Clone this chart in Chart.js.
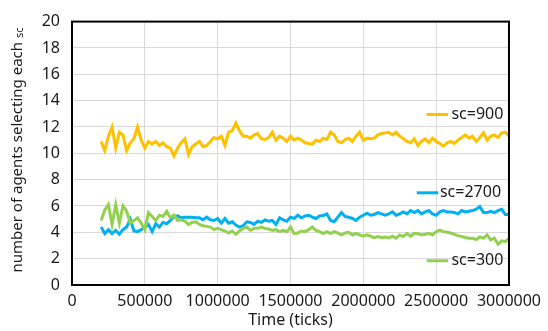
<!DOCTYPE html>
<html>
<head>
<meta charset="utf-8">
<script src="https://cdn.jsdelivr.net/npm/chart.js@4.4.1/dist/chart.umd.min.js"></script>
<style>
    body { margin: 0; background: #ffffff; }
    #grafico_box { width: 548px; height: 331px; }
</style>
</head>
<body>
<div id="grafico_box"><canvas id="canvas_grafico"></canvas></div>
<script>
// tempo em milhares de ticks (200000 ... 3000000)
var tempos = [200,225,250,275,300,325,350,375,400,425,450,475,500,525,550,575,600,625,650,675,
    700,725,750,775,800,825,850,875,900,925,950,975,1000,1025,1050,1075,1100,1125,1150,1175,
    1200,1225,1250,1275,1300,1325,1350,1375,1400,1425,1450,1475,1500,1525,1550,1575,1600,1625,1650,1675,
    1700,1725,1750,1775,1800,1825,1850,1875,1900,1925,1950,1975,2000,2025,2050,2075,2100,2125,2150,2175,
    2200,2225,2250,2275,2300,2325,2350,2375,2400,2425,2450,2475,2500,2525,2550,2575,2600,2625,2650,2675,
    2700,2725,2750,2775,2800,2825,2850,2875,2900,2925,2950,2975,3000]

var sc900 = [10.9,10.2,11.3,12.0,10.4,11.6,11.4,10.2,10.8,11.1,
    12.0,11.0,10.4,10.9,10.7,10.9,10.6,10.8,10.5,10.4,
    9.8,10.4,10.8,11.1,9.9,10.5,10.7,10.9,10.5,10.6,
    10.9,11.2,11.1,11.3,10.6,11.6,11.7,12.3,11.7,11.3,
    11.3,11.15,11.4,11.5,11.1,11.05,11.2,11.6,11.0,11.3,
    11.15,10.9,11.3,11.0,11.15,11.0,10.8,10.75,10.7,11.0,
    10.9,11.15,11.05,11.6,11.4,10.9,10.8,11.05,11.15,10.9,
    11.3,11.6,11.0,11.15,11.1,11.15,11.4,11.5,11.55,11.6,
    11.4,11.6,11.3,11.1,10.9,10.8,11.1,10.6,10.9,11.1,
    10.8,11.15,10.9,10.75,10.55,10.8,10.9,10.75,11.0,11.2,
    11.4,11.15,11.3,10.9,11.2,11.55,11.0,11.3,11.4,11.2,
    11.55,11.6,11.3]

var sc2700 = [4.4,3.9,4.2,3.9,4.15,3.85,4.2,4.4,5.0,4.1,
    4.05,4.2,4.4,4.6,4.05,4.65,4.4,4.75,4.65,4.9,
    5.2,5.25,5.1,5.15,5.15,5.15,5.1,5.1,4.95,5.15,
    4.95,4.9,5.05,4.7,5.05,4.7,4.8,4.55,4.4,4.5,
    4.8,4.75,4.6,4.85,4.75,4.95,4.85,4.9,4.6,5.1,
    4.95,4.85,5.15,5.05,5.3,5.1,5.25,5.3,5.15,5.05,
    5.25,5.27,5.4,4.9,4.8,5.15,5.5,5.2,5.15,5.05,
    4.9,5.15,5.3,5.45,5.3,5.35,5.5,5.4,5.3,5.4,
    5.55,5.3,5.4,5.55,5.4,5.65,5.5,5.65,5.4,5.55,
    5.65,5.4,5.3,5.55,5.65,5.55,5.55,5.5,5.4,5.65,
    5.55,5.6,5.65,5.75,5.95,5.5,5.5,5.6,5.5,5.65,
    5.75,5.35,5.35]

var sc300 = [4.9,5.7,6.1,4.6,6.1,4.7,6.0,5.6,4.7,4.9,
    5.1,4.7,4.2,5.5,5.2,4.9,5.3,5.2,5.6,5.1,
    5.3,4.9,4.95,4.85,4.6,4.75,4.8,4.6,4.5,4.45,
    4.4,4.2,4.3,4.2,4.1,3.95,4.1,3.85,4.1,4.3,
    4.4,4.15,4.3,4.3,4.4,4.3,4.25,4.15,4.2,4.05,
    4.15,4.05,4.4,3.9,3.95,4.1,4.05,4.2,4.4,4.15,
    4.05,3.9,4.05,3.9,4.05,3.95,3.8,3.95,4.0,3.8,
    3.92,3.8,3.7,3.8,3.7,3.6,3.68,3.6,3.65,3.58,
    3.7,3.55,3.8,3.68,3.9,3.7,3.92,3.9,3.8,3.85,
    3.92,3.8,4.05,4.17,4.05,4.0,3.95,3.85,3.75,3.68,
    3.6,3.55,3.55,3.45,3.65,3.55,3.8,3.43,3.55,3.1,
    3.35,3.3,3.55]

var ticksX = [0,500000,1000000,1500000,2000000,2500000,3000000]
var ticksY = [0,2,4,6,8,10,12,14,16,18,20]

// rotulos das series, escritos ao lado das linhas: [texto, cor, x inicio linha, x fim linha, x texto, y]
var rotulos = [
    ["sc=900", "#FFC000", 2435000, 2583000, 2605000, 12.95],
    ["sc=2700", "#00B0F0", 2367000, 2515000, 2526000, 7.0],
    ["sc=300", "#92D050", 2435000, 2583000, 2605000, 1.84]
]

var fonte = "'Noto Sans', 'Open Sans', sans-serif"

function montarPontos(valores) {
    return valores.map((v, i) => ({ x: tempos[i] * 1000, y: v }))
}

function criarSerie(nome, valores, cor) {
    return {
        label: nome,
        data: montarPontos(valores),
        borderColor: cor,
        backgroundColor: cor,
        borderWidth: 3,
        pointRadius: 0,
        tension: 0,
        fill: false
    }
}

// moldura, titulos dos eixos e rotulos das series
const pluginExtras = {
    id: 'extras',
    afterDatasetsDraw(chart) {
        var ctx = chart.ctx
        var area = chart.chartArea
        var sx = chart.scales.x
        var sy = chart.scales.y

        ctx.save()
        ctx.strokeStyle = '#000000'
        ctx.lineWidth = 2
        ctx.strokeRect(area.left, area.top, area.right - area.left, area.bottom - area.top)

        rotulos.forEach(r => {
            var yp = sy.getPixelForValue(r[5])
            ctx.strokeStyle = r[1]
            ctx.lineWidth = 3
            ctx.beginPath()
            ctx.moveTo(sx.getPixelForValue(r[2]), yp)
            ctx.lineTo(sx.getPixelForValue(r[3]), yp)
            ctx.stroke()
            ctx.fillStyle = '#1a1a1a'
            ctx.font = "16px " + fonte
            ctx.textAlign = 'left'
            ctx.textBaseline = 'middle'
            ctx.fillText(r[0], sx.getPixelForValue(r[4]), yp)
        })

        // titulo eixo x
        ctx.fillStyle = '#1a1a1a'
        ctx.font = "16px " + fonte
        ctx.textAlign = 'center'
        ctx.textBaseline = 'middle'
        ctx.fillText("Time (ticks)", (area.left + area.right) / 2, 320)

        // titulo eixo y com subscrito
        var texto = "number of agents selecting each "
        var sub = "sc"
        ctx.font = "15px " + fonte
        var w1 = ctx.measureText(texto).width
        ctx.font = "11px " + fonte
        var w2 = ctx.measureText(sub).width
        ctx.translate(22, 150)
        ctx.rotate(-Math.PI / 2)
        ctx.textAlign = 'left'
        ctx.textBaseline = 'alphabetic'
        ctx.font = "15px " + fonte
        ctx.fillText(texto, -(w1 + w2) / 2, 0)
        ctx.font = "11px " + fonte
        ctx.fillText(sub, -(w1 + w2) / 2 + w1, 1)
        ctx.restore()
    }
}

const config = {
    type: 'line',
    data: {
        datasets: [
            criarSerie("sc=300", sc300, '#92D050'),
            criarSerie("sc=900", sc900, '#FFC000'),
            criarSerie("sc=2700", sc2700, '#00B0F0')
        ]
    },
    options: {
        responsive: true,
        maintainAspectRatio: false,
        animation: false,
        layout: {
            padding: { left: 0, right: 35, top: 13, bottom: 0 }
        },
        plugins: {
            legend: { display: false },
            tooltip: { enabled: false }
        },
        scales: {
            x: {
                type: 'linear',
                min: 0,
                max: 3000000,
                afterFit(s) { s.height = 46 },
                afterBuildTicks(s) { s.ticks = ticksX.map(v => ({ value: v })) },
                grid: { color: '#d9d9d9', lineWidth: 1, drawTicks: false },
                border: { color: '#000000', width: 2 },
                ticks: {
                    color: '#1a1a1a',
                    font: { size: 16, family: fonte },
                    padding: 7,
                    maxRotation: 0,
                    autoSkip: false,
                    callback: (v) => String(v)
                }
            },
            y: {
                min: 0,
                max: 20,
                afterFit(s) { s.width = 72 },
                afterBuildTicks(s) { s.ticks = ticksY.map(v => ({ value: v })) },
                grid: { color: '#d9d9d9', lineWidth: 1, drawTicks: false },
                border: { color: '#000000', width: 2 },
                ticks: {
                    color: '#1a1a1a',
                    font: { size: 16, family: fonte },
                    padding: 12
                }
            }
        }
    },
    plugins: [pluginExtras]
}

new Chart(document.getElementById("canvas_grafico"), config)
</script>
</body>
</html>
